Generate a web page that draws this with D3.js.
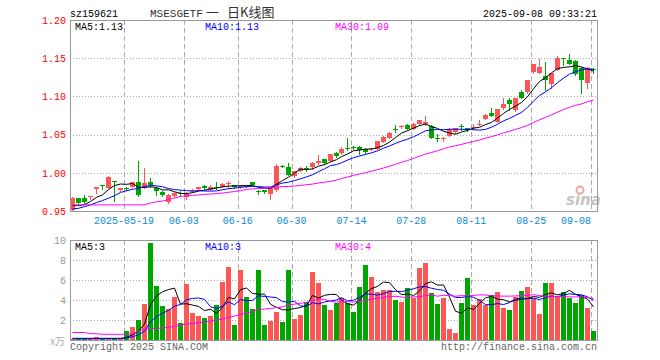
<!DOCTYPE html>
<html>
<head>
<meta charset="utf-8">
<script src="https://cdn.jsdelivr.net/npm/d3@7"></script>
<style>
	body { margin: 0; background: #fff; }
</style>
</head>
<body>
<div id="chart"></div>
<script>
// Trading days shown (one candle each)
const dates = [
	'2025-05-06','2025-05-07','2025-05-08','2025-05-09','2025-05-12','2025-05-13','2025-05-14','2025-05-15','2025-05-16','2025-05-19',
	'2025-05-20','2025-05-21','2025-05-22','2025-05-23','2025-05-26','2025-05-27','2025-05-28','2025-05-29','2025-05-30','2025-06-03',
	'2025-06-04','2025-06-05','2025-06-06','2025-06-09','2025-06-10','2025-06-11','2025-06-12','2025-06-13','2025-06-16','2025-06-17',
	'2025-06-18','2025-06-19','2025-06-20','2025-06-23','2025-06-24','2025-06-25','2025-06-26','2025-06-30','2025-07-01','2025-07-02',
	'2025-07-03','2025-07-04','2025-07-07','2025-07-08','2025-07-09','2025-07-10','2025-07-11','2025-07-14','2025-07-15','2025-07-16',
	'2025-07-17','2025-07-18','2025-07-21','2025-07-22','2025-07-23','2025-07-24','2025-07-25','2025-07-28','2025-07-29','2025-07-30',
	'2025-07-31','2025-08-01','2025-08-04','2025-08-05','2025-08-06','2025-08-07','2025-08-08','2025-08-11','2025-08-12','2025-08-13',
	'2025-08-14','2025-08-15','2025-08-18','2025-08-19','2025-08-20','2025-08-21','2025-08-22','2025-08-25','2025-08-26','2025-08-27',
	'2025-08-28','2025-08-29','2025-09-01','2025-09-02','2025-09-03','2025-09-04','2025-09-05','2025-09-08'
]

const opens = [
	0.951,0.967,0.967,0.9677,0.979,0.984,0.980,0.989,0.978,0.980,
	0.982,0.9885,0.981,0.9885,0.9796,0.9747,0.9624,0.969,0.9738,0.968,
	0.9756,0.979,0.983,0.978,0.981,0.9814,0.985,0.9836,0.981,0.9825,
	0.988,0.9757,0.9778,0.9725,0.977,1.009,1.0075,0.9955,1.0022,1.0068,
	1.007,1.0124,1.0176,1.0158,1.0265,1.0256,1.0328,1.0333,1.034,1.0318,
	1.0309,1.0318,1.0406,1.0451,1.0575,1.0596,1.0631,1.0574,1.064,1.064,
	1.061,1.046,1.0445,1.0486,1.053,1.0607,1.0587,1.0593,1.0627,1.0707,
	1.0786,1.0662,1.0848,1.095,1.0817,1.1055,1.106,1.1317,1.1312,1.1272,
	1.1162,1.1348,1.1505,1.148,1.1467,1.137,1.1171,1.1355
]
const closes = [
	0.967,0.960,0.9615,0.970,0.981,0.983,0.9946,0.988,0.980,0.979,
	0.988,0.9703,0.9867,0.984,0.9756,0.9712,0.9712,0.974,0.973,0.974,
	0.978,0.981,0.9796,0.982,0.9796,0.9858,0.986,0.981,0.983,0.982,
	0.984,0.9755,0.975,0.9814,1.0088,1.0085,0.9977,1.0022,1.0066,1.0066,
	1.0123,1.0154,1.0123,1.0243,1.022,1.0318,1.0327,1.0331,1.0296,1.0274,
	1.0327,1.0415,1.0473,1.0521,1.057,1.0618,1.0574,1.064,1.0685,1.0671,
	1.0455,1.0455,1.0455,1.0574,1.0583,1.0602,1.056,1.060,1.0636,1.076,
	1.0742,1.0839,1.0906,1.0897,1.098,1.098,1.1215,1.1423,1.1383,1.1215,
	1.1303,1.150,1.1495,1.1423,1.129,1.1215,1.1378,1.135
]
const highs = [
	0.968,0.967,0.971,0.970,0.981,0.984,0.9955,0.989,0.980,0.981,
	0.988,1.015,1.006,0.9938,0.981,0.9756,0.972,0.975,0.976,0.975,
	0.979,0.982,0.984,0.984,0.988,0.987,0.989,0.984,0.984,0.983,
	0.988,0.978,0.978,0.982,1.011,1.010,1.0124,1.003,1.007,1.0088,
	1.014,1.0229,1.018,1.025,1.027,1.0344,1.046,1.035,1.035,1.032,
	1.033,1.042,1.048,1.053,1.0627,1.062,1.064,1.065,1.069,1.0742,
	1.062,1.051,1.047,1.058,1.059,1.064,1.059,1.064,1.0694,1.077,
	1.0848,1.084,1.098,1.0985,1.098,1.1082,1.122,1.143,1.149,1.1445,
	1.131,1.1524,1.1505,1.1555,1.147,1.138,1.139,1.1375
]
const lows = [
	0.950,0.959,0.960,0.966,0.974,0.979,0.980,0.9637,0.976,0.978,
	0.981,0.969,0.980,0.982,0.971,0.970,0.960,0.968,0.970,0.966,
	0.975,0.978,0.979,0.977,0.979,0.981,0.980,0.980,0.980,0.981,
	0.983,0.9726,0.974,0.966,0.976,1.007,0.9965,0.995,1.002,1.0022,
	1.0044,1.012,1.012,1.015,1.021,1.025,1.030,1.031,1.0243,1.0256,
	1.030,1.031,1.040,1.045,1.053,1.059,1.057,1.057,1.063,1.063,
	1.045,1.042,1.042,1.048,1.052,1.0565,1.055,1.0574,1.062,1.070,
	1.074,1.066,1.084,1.0826,1.081,1.098,1.105,1.131,1.131,1.1082,
	1.1105,1.134,1.1414,1.142,1.128,1.1047,1.1105,1.131
]
// Volume, in units of 10,000 shares
const volumes = [
	0.15,0.1,0.1,0.1,0.3,0.1,0.1,0.1,0.1,0.93,
	1.33,2.0,3.6,9.73,5.4,3.4,3.07,4.33,1.73,5.6,
	2.73,2.4,2.23,2.4,3.5,5.83,7.33,1.5,7.0,4.33,
	3.1,7.0,1.5,1.93,2.83,1.83,7.0,2.1,2.5,3.83,
	6.83,5.67,3.5,3.0,3.73,4.17,3.73,2.8,5.33,7.5,
	6.33,4.83,5.0,5.0,4.0,3.83,5.23,4.17,7.23,7.73,
	4.73,3.6,4.23,1.1,0.73,3.73,6.23,3.5,4.1,3.5,
	4.5,4.83,3.23,3.0,4.33,4.9,5.33,4.17,2.6,5.73,
	5.73,4.33,4.83,4.23,3.73,4.5,3.23,0.9
]

// Moving-average values before a full window exists
const ma5Head = [0.957,0.957,0.9584,0.9624]
const ma10Head = [0.9527,0.9535,0.9557,0.958,0.961,0.9637,0.9668,0.970,0.9743]
const ma30Head = [
	0.958,0.958,0.958,0.958,0.958,0.958,0.958,0.958,0.958,0.958,
	0.958,0.958,0.958,0.9605,0.962,0.963,0.965,0.967,0.969,0.970,
	0.9705,0.971,0.9717,0.9722,0.9727,0.9735,0.9745,0.9755,0.9765
]
const vma5Head = [0.13,0.13,0.13,0.13]
const vma10Head = [0.17,0.17,0.17,0.17,0.17,0.17,0.17,0.17,0.17]
const vma30Head = [
	0.75,0.75,0.75,0.63,0.63,0.57,0.57,0.57,0.57,0.57,
	0.63,0.9,1.07,1.13,1.17,1.2,1.27,1.35,1.5,1.6,
	1.65,1.72,1.8,1.88,2.0,2.1,2.25,2.4,2.55
]

const priceTicks = [0.95, 1.00, 1.05, 1.10, 1.15, 1.20]
const volTicks = [2, 4, 6, 8, 10]
const tickDates = ['2025-05-19','2025-06-03','2025-06-16','2025-06-30','2025-07-14','2025-07-28','2025-08-11','2025-08-25','2025-09-08']
const tickLabels = ['2025-05-19','06-03','06-16','06-30','07-14','07-28','08-11','08-25','09-08']
const priceLegend = ['MA5:1.13', 'MA10:1.13', 'MA30:1.09']
const volLegend = ['MA5:3', 'MA10:3', 'MA30:4']

const UP = '#fc5656', DOWN = '#00a600'
const maColors = ['#000000', '#0000ff', '#ff00ff']

function sma(values, n, head) {
	return values.map((v, i) => i < n - 1 ? head[i] : d3.mean(values.slice(i - n + 1, i + 1)))
}

const w = 660, h = 360
const left = 70, right = 597
const pTop = 20, pBottom = 211, vTop = 240, vBottom = 340

const $svg = d3.select('#chart').append('svg')
	.attr('width', w)
	.attr('height', h)
	.style('font-family', '"Liberation Mono", "DejaVu Sans Mono", monospace')
	.style('font-size', '10px')

const x = d3.scaleBand().domain(dates).range([left, right])
const x0 = d => Math.round(x(d))
const cx = d => x0(d) + 2.5

const yP = d3.scaleLinear().domain([0.95, 1.20]).range([pBottom, pTop])
const yV = d3.scaleLinear().domain([0, 10]).range([vBottom, vTop])

const rows = dates.map((d, i) => ({
	date: d, o: opens[i], c: closes[i], h: highs[i], l: lows[i], v: volumes[i],
	up: closes[i] >= opens[i]
}))

// Grid

function grid($g, y, values, top, bottom) {
	$g.selectAll('.hgrid')
		.data(values)
		.enter().append('line')
		.attr('x1', left).attr('x2', right)
		.attr('y1', d => Math.round(y(d)) + 0.5)
		.attr('y2', d => Math.round(y(d)) + 0.5)
		.attr('stroke', '#aaa')
		.attr('stroke-dasharray', '1,2')
	$g.selectAll('.vgrid')
		.data(tickDates)
		.enter().append('line')
		.attr('x1', d => x0(d) + 0.5).attr('x2', d => x0(d) + 0.5)
		.attr('y1', top).attr('y2', bottom)
		.attr('stroke', '#aaa')
		.attr('stroke-dasharray', '5,3')
}

const $grid = $svg.append('g')
grid($grid, yP, [1.00, 1.05, 1.10, 1.15], pTop, pBottom)
grid($grid, yV, [2, 4, 6, 8], vTop, vBottom)

// Sina watermark
const $logo = $svg.append('g')
$logo.append('circle')
	.attr('cx', 580).attr('cy', 190).attr('r', 3.5)
	.attr('fill', 'none').attr('stroke', '#f6a3a3').attr('stroke-width', 2)
$logo.append('text')
	.attr('x', 566).attr('y', 205)
	.style('font-family', '"DejaVu Sans", sans-serif')
	.style('font-size', '15px')
	.style('font-weight', 'bold')
	.style('font-style', 'italic')
	.attr('fill', '#c4c4c4')
	.text('sina')

// Candles
const $candles = $svg.append('g').attr('class', 'candles')
$candles.selectAll('line')
	.data(rows)
	.enter().append('line')
	.attr('x1', d => cx(d.date)).attr('x2', d => cx(d.date))
	.attr('y1', d => Math.round(yP(d.h)))
	.attr('y2', d => Math.round(yP(d.l)) + 1)
	.attr('stroke', d => d.up ? UP : DOWN)

$candles.selectAll('rect')
	.data(rows)
	.enter().append('rect')
	.attr('x', d => x0(d.date))
	.attr('width', 5)
	.attr('y', d => Math.round(yP(Math.max(d.o, d.c))))
	.attr('height', d => Math.max(1, Math.round(yP(Math.min(d.o, d.c))) - Math.round(yP(Math.max(d.o, d.c)))))
	.attr('fill', d => d.up ? UP : DOWN)
	.attr('shape-rendering', 'crispEdges')

// Volume bars
$svg.append('g').selectAll('rect')
	.data(rows)
	.enter().append('rect')
	.attr('x', d => x0(d.date))
	.attr('width', 5)
	.attr('y', d => Math.round(yV(d.v)))
	.attr('height', d => vBottom - Math.round(yV(d.v)))
	.attr('fill', d => d.up ? UP : DOWN)
	.attr('shape-rendering', 'crispEdges')

// Moving averages
const priceMA = [sma(closes, 5, ma5Head), sma(closes, 10, ma10Head), sma(closes, 30, ma30Head)]
const volMA = [sma(volumes, 5, vma5Head), sma(volumes, 10, vma10Head), sma(volumes, 30, vma30Head)]

function drawLines(series, y) {
	const line = d3.line()
		.x((_, i) => cx(dates[i]))
		.y(v => y(v))
	$svg.append('g').selectAll('path')
		.data(series)
		.enter().append('path')
		.attr('d', line)
		.attr('fill', 'none')
		.attr('stroke', (_, i) => maColors[i])
		.attr('stroke-width', 1)
}
drawLines(priceMA, yP)
drawLines(volMA, yV)

// Frames
$svg.append('rect')
	.attr('x', left + 0.5).attr('y', pTop + 0.5)
	.attr('width', right - left).attr('height', pBottom - pTop)
	.attr('fill', 'none').attr('stroke', '#999')
$svg.append('rect')
	.attr('x', left + 0.5).attr('y', vTop + 0.5)
	.attr('width', right - left).attr('height', vBottom - vTop)
	.attr('fill', 'none').attr('stroke', '#999')

// Axes
const $yP = $svg.append('g')
	.attr('transform', `translate(${left}, 0)`)
	.call(d3.axisLeft(yP).tickValues(priceTicks).tickFormat(d3.format('.2f')).tickSize(0).tickPadding(4))
$yP.select('.domain').remove()
$yP.selectAll('text')
	.attr('fill', '#f00')
	.style('font-family', '"Liberation Mono", monospace')
	.style('font-size', '10px')

const $yV = $svg.append('g')
	.attr('transform', `translate(${left}, 0)`)
	.call(d3.axisLeft(yV).tickValues(volTicks).tickSize(0).tickPadding(4))
$yV.select('.domain').remove()
$yV.selectAll('text')
	.attr('fill', '#999')
	.style('font-family', '"Liberation Mono", monospace')
	.style('font-size', '10px')

const $x = $svg.append('g')
	.attr('transform', `translate(${-x.bandwidth() / 2}, ${pBottom})`)
	.call(d3.axisBottom(x).tickValues(tickDates).tickFormat((d, i) => tickLabels[i]).tickSize(0).tickPadding(6))
$x.select('.domain').remove()
$x.selectAll('text')
	.attr('fill', '#0a8bd6')
	.style('font-family', '"Liberation Mono", monospace')
	.style('font-size', '10px')
// the last label is kept inside the frame
$x.selectAll('text')
	.filter((d, i) => i === tickDates.length - 1)
	.attr('text-anchor', 'end')

// Legends
const legendX = [75, 205, 335]
$svg.append('g').selectAll('text')
	.data(priceLegend)
	.enter().append('text')
	.attr('x', (_, i) => legendX[i]).attr('y', 30)
	.attr('fill', (_, i) => maColors[i])
	.text(d => d)
$svg.append('g').selectAll('text')
	.data(volLegend)
	.enter().append('text')
	.attr('x', (_, i) => legendX[i]).attr('y', 250)
	.attr('fill', (_, i) => maColors[i])
	.text(d => d)

// Header and footer
$svg.append('text').attr('x', left).attr('y', 17).attr('fill', '#000').text('sz159621')
$svg.append('text').attr('x', right).attr('y', 17).attr('fill', '#000')
	.attr('text-anchor', 'end').text('2025-09-08 09:33:21')

const $title = $svg.append('text').attr('y', 17).attr('fill', '#333')
$title.append('tspan').attr('x', 150)
	.style('font-size', '11px').text('MSESGETF')
$title.append('tspan').attr('x', 206)
	.style('font-family', '"Noto Sans CJK SC", sans-serif').style('font-size', '13px').text('一')
$title.append('tspan').attr('x', 227)
	.style('font-family', '"Noto Sans CJK SC", sans-serif').style('font-size', '13px').text('日K线图')

$svg.append('text').attr('x', 65).attr('y', 345).attr('fill', '#aaa')
	.attr('text-anchor', 'end')
	.style('font-family', '"Noto Sans CJK SC", sans-serif').style('font-size', '10px')
	.text('x万')

$svg.append('text').attr('x', left).attr('y', 350).attr('fill', '#666').text('Copyright 2025 SINA.COM')
$svg.append('text').attr('x', right).attr('y', 350).attr('fill', '#666')
	.attr('text-anchor', 'end').text('http://finance.sina.com.cn')
</script>
</body>
</html>
